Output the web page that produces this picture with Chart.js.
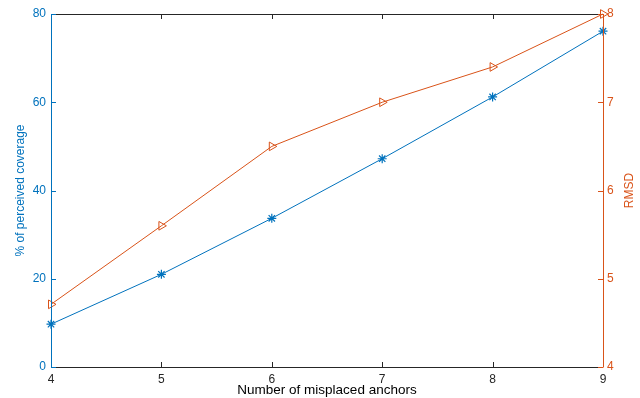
<!DOCTYPE html>
<html><head><meta charset="utf-8">
<script src="https://cdn.jsdelivr.net/npm/chart.js@4/dist/chart.umd.min.js"></script>
<style>html,body{margin:0;padding:0;background:#fff}#wrap{width:640px;height:398px}</style>
</head><body><div id="wrap"><canvas id="c" width="640" height="398"></canvas></div>
<script>
const anchors = [4, 5, 6, 7, 8, 9];
const coverage = [9.7, 21.0, 33.7, 47.2, 61.2, 76.1];
const rmsd = [4.71, 5.60, 6.50, 7.00, 7.40, 8.00];
const leftTicks = [0, 20, 40, 60, 80];
const rightTicks = [4, 5, 6, 7, 8];

const BLUE = '#0072BD', ORANGE = '#D95319', DARK = '#262626';
const FONT = '"Liberation Sans", Arial, sans-serif';

const frame = {
  id: 'frame',
  afterDraw(chart) {
    const ctx = chart.ctx, a = chart.chartArea;
    const x = chart.scales.x, yl = chart.scales.y, yr = chart.scales.y1;
    const L = 5;
    ctx.save();
    ctx.lineWidth = 1;
    ctx.strokeStyle = DARK;
    ctx.beginPath();
    ctx.moveTo(a.left, Math.round(a.top) + 0.5); ctx.lineTo(a.right, Math.round(a.top) + 0.5);
    ctx.moveTo(a.left, Math.round(a.bottom) + 0.5); ctx.lineTo(a.right, Math.round(a.bottom) + 0.5);
    anchors.forEach(v => {
      const px = Math.round(x.getPixelForValue(v)) + 0.5;
      ctx.moveTo(px, a.bottom); ctx.lineTo(px, a.bottom - L);
      ctx.moveTo(px, a.top); ctx.lineTo(px, a.top + L);
    });
    ctx.stroke();
    ctx.strokeStyle = BLUE;
    ctx.beginPath();
    ctx.moveTo(Math.round(a.left) + 0.5, a.top); ctx.lineTo(Math.round(a.left) + 0.5, a.bottom + 0.5);
    leftTicks.forEach(v => {
      const py = Math.round(yl.getPixelForValue(v)) + 0.5;
      ctx.moveTo(a.left, py); ctx.lineTo(a.left + L, py);
    });
    ctx.stroke();
    ctx.strokeStyle = ORANGE;
    ctx.beginPath();
    ctx.moveTo(Math.round(a.right) + 0.5, a.top); ctx.lineTo(Math.round(a.right) + 0.5, a.bottom + 0.5);
    rightTicks.forEach(v => {
      const py = Math.round(yr.getPixelForValue(v)) + 0.5;
      ctx.moveTo(a.right, py); ctx.lineTo(a.right - L, py);
    });
    ctx.stroke();
    ctx.fillStyle = ORANGE;
    ctx.font = '12px ' + FONT;
    ctx.textAlign = 'center'; ctx.textBaseline = 'middle';
    ctx.translate(630, (a.top + a.bottom) / 2);
    ctx.rotate(-Math.PI / 2);
    ctx.fillText('RMSD', 0, 0);
    ctx.restore();
  }
};

new Chart(document.getElementById('c'), {
  type: 'line',
  data: {
    labels: anchors,
    datasets: [
      { data: coverage, yAxisID: 'y', borderColor: BLUE, backgroundColor: BLUE, borderWidth: 1, clip: false,
        pointStyle: 'star', pointRadius: 4.5, pointBorderWidth: 1.2, pointBorderColor: BLUE, tension: 0 },
      { data: rmsd, yAxisID: 'y1', borderColor: ORANGE, backgroundColor: 'rgba(0,0,0,0)', borderWidth: 1, clip: false,
        pointStyle: 'triangle', pointRotation: 90, pointRadius: 5, pointBorderWidth: 1, pointBorderColor: ORANGE, tension: 0 }
    ]
  },
  options: {
    responsive: false, animation: false, events: [],
    layout: { padding: { top: 14, left: 0, right: 0, bottom: 0 } },
    plugins: { legend: { display: false }, tooltip: { enabled: false } },
    scales: {
      x: {
        type: 'linear', min: 4, max: 9,
        afterFit(s) { s.height = 31; },
        grid: { display: false, drawTicks: false }, border: { display: false },
        afterBuildTicks(s) { s.ticks = anchors.map(v => ({ value: v })); },
        ticks: { color: DARK, font: { family: FONT, size: 12 }, padding: 5, maxRotation: 0 },
        title: { display: true, text: 'Number of misplaced anchors', color: '#000', font: { family: FONT, size: 13.5 }, padding: { top: 0, bottom: 0 } }
      },
      y: {
        position: 'left', min: 0, max: 80,
        afterFit(s) { s.width = 51; },
        grid: { display: false, drawTicks: false }, border: { display: false },
        afterBuildTicks(s) { s.ticks = leftTicks.map(v => ({ value: v })); },
        ticks: { color: BLUE, font: { family: FONT, size: 12 }, padding: 5 },
        title: { display: true, text: '% of perceived coverage', color: BLUE, font: { family: FONT, size: 12 }, padding: { top: 13, bottom: 0 } }
      },
      y1: {
        position: 'right', min: 4, max: 8,
        afterFit(s) { s.width = 37; },
        grid: { display: false, drawTicks: false }, border: { display: false },
        afterBuildTicks(s) { s.ticks = rightTicks.map(v => ({ value: v })); },
        ticks: { color: ORANGE, font: { family: FONT, size: 12 }, padding: 4 }
      }
    }
  },
  plugins: [frame]
});
</script></body></html>
